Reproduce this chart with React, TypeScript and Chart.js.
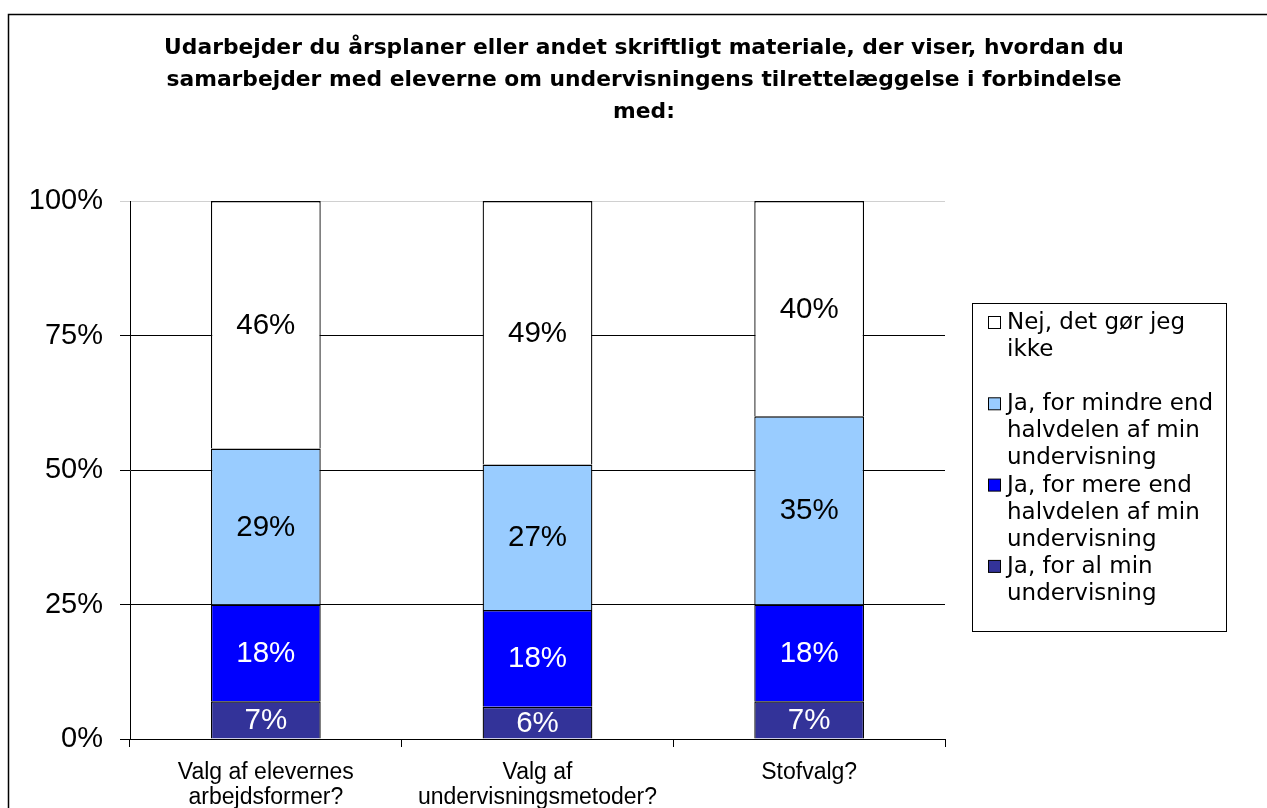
import React, { useEffect, useRef } from "react";
import { Chart, registerables } from "chart.js";

Chart.register(...registerables);

const titleLines = [
  "Udarbejder du årsplaner eller andet skriftligt materiale, der viser, hvordan du",
  "samarbejder med eleverne om undervisningens tilrettelæggelse i forbindelse",
  "med:",
];
const categories = [
  ["Valg af elevernes", "arbejdsformer?"],
  ["Valg af", "undervisningsmetoder?"],
  ["Stofvalg?"],
];
const seriesNames = [
  "Ja, for al min undervisning",
  "Ja, for mere end halvdelen af min undervisning",
  "Ja, for mindre end halvdelen af min undervisning",
  "Nej, det gør jeg ikke",
];
const alMin = [7, 6, 7];
const mereEnd = [18, 18, 18];
const mindreEnd = [29, 27, 35];
const nej = [46, 49, 40];
const yTickValues = [0, 25, 50, 75, 100];

const colors = ["#333399", "#0000FF", "#99CCFF", "#FFFFFF"];
const labelColors = ["#FFFFFF", "#FFFFFF", "#000000", "#000000"];

const SANS = "'Liberation Sans', Arial, sans-serif";
const VERD = "'DejaVu Sans', Verdana, sans-serif";

function wrap(ctx: CanvasRenderingContext2D, text: string, maxW: number): string[] {
  const words = text.split(" ");
  const lines: string[] = [];
  let cur = "";
  for (const w of words) {
    const t = cur ? cur + " " + w : w;
    if (ctx.measureText(t).width > maxW && cur) {
      lines.push(cur);
      cur = w;
    } else cur = t;
  }
  if (cur) lines.push(cur);
  return lines;
}

const decorPlugin = {
  id: "decor",
  beforeDraw(chart: any) {
    const ctx = chart.ctx as CanvasRenderingContext2D;
    ctx.save();
    ctx.fillStyle = "#fff";
    ctx.fillRect(0, 0, chart.width, chart.height);
    ctx.strokeStyle = "#000";
    ctx.lineWidth = 1.5;
    ctx.strokeRect(8.5, 14.5, 1400, 1000);
    ctx.restore();
  },
  afterDatasetsDraw(chart: any) {
    const ctx = chart.ctx as CanvasRenderingContext2D;
    ctx.save();
    ctx.font = `29.5px ${SANS}`;
    ctx.textAlign = "center";
    ctx.textBaseline = "middle";
    chart.data.datasets.forEach((ds: any, di: number) => {
      const meta = chart.getDatasetMeta(di);
      meta.data.forEach((el: any, i: number) => {
        const v = ds.data[i];
        ctx.fillStyle = labelColors[di];
        ctx.fillText(v + "%", el.x, (el.y + el.base) / 2 + 1);
      });
    });
    ctx.restore();
  },
  afterDraw(chart: any) {
    const ctx = chart.ctx as CanvasRenderingContext2D;
    ctx.save();
    // title
    ctx.fillStyle = "#000";
    ctx.font = `bold 21.8px ${VERD}`;
    ctx.textAlign = "center";
    ctx.textBaseline = "middle";
    titleLines.forEach((l, i) => ctx.fillText(l, 644, 48 + i * 32));

    // legend
    ctx.strokeStyle = "#000";
    ctx.lineWidth = 1;
    ctx.strokeRect(972.5, 303.5, 254, 328);
    ctx.font = `23px ${VERD}`;
    ctx.textAlign = "left";
    const n = chart.data.datasets.length;
    for (let k = 0; k < n; k++) {
      const di = n - 1 - k;
      const ds = chart.data.datasets[di];
      const lines = wrap(ctx, ds.label, 216);
      lines.forEach((l, j) => {
        const y = 323 + (k * 3 + j) * 27.1;
        if (j === 0) {
          ctx.fillStyle = colors[di];
          ctx.fillRect(988.5, y - 6.5, 12, 12);
          ctx.strokeStyle = "#000";
          ctx.strokeRect(988.5, y - 6.5, 12, 12);
        }
        ctx.fillStyle = "#000";
        ctx.fillText(l, 1007, y);
      });
    }
    ctx.restore();
  },
};

export default function App() {
  const ref = useRef<HTMLCanvasElement | null>(null);
  useEffect(() => {
    if (!ref.current) return;
    const series = [alMin, mereEnd, mindreEnd, nej];
    const chart = new Chart(ref.current, {
      type: "bar",
      data: {
        labels: categories as any,
        datasets: series.map((d, i) => ({
          label: seriesNames[i],
          data: d,
          backgroundColor: colors[i],
          borderColor: "#000",
          borderWidth: { top: 1.5, left: 1.3, right: 1.3, bottom: 0 },
          borderSkipped: false,
          categoryPercentage: 1,
          barPercentage: 0.404,
        })),
      },
      options: {
        responsive: false,
        animation: false,
        events: [],
        layout: { padding: { left: 8, top: 201, right: 322, bottom: 0 } },
        plugins: {
          legend: { display: false },
          title: { display: false },
          tooltip: { enabled: false },
        },
        scales: {
          x: {
            stacked: true,
            afterFit: (s: any) => {
              s.height = 69;
            },
            grid: {
              drawOnChartArea: false,
              drawTicks: true,
              tickLength: 8,
              color: "#000",
              offset: true,
            },
            border: { display: true, color: "#000", width: 1 },
            ticks: {
              color: "#000",
              font: { family: SANS, size: 23, lineHeight: 1.1 },
              padding: 13,
              maxRotation: 0,
              autoSkip: false,
            },
          },
          y: {
            stacked: true,
            min: 0,
            max: 100,
            afterFit: (s: any) => {
              s.width = 122;
            },
            afterBuildTicks: (s: any) => {
              s.ticks = yTickValues.map((v) => ({ value: v }));
            },
            grid: {
              color: (c: any) => (c.tick && c.tick.value === 100 ? "#d0d0d0" : "#000"),
              tickLength: 10,
              drawTicks: true,
            },
            border: { display: true, color: "#000", width: 1 },
            ticks: {
              color: "#000",
              font: { family: SANS, size: 29 },
              padding: 17,
              callback: (v: any) => v + "%",
            },
          },
        },
      },
      plugins: [decorPlugin],
    });
    return () => chart.destroy();
  }, []);
  return (
    <div style={{ position: "fixed", left: 0, top: 0, width: 1267, height: 808, background: "#fff" }}>
      <canvas ref={ref} width={1267} height={808} style={{ display: "block" }} />
    </div>
  );
}
